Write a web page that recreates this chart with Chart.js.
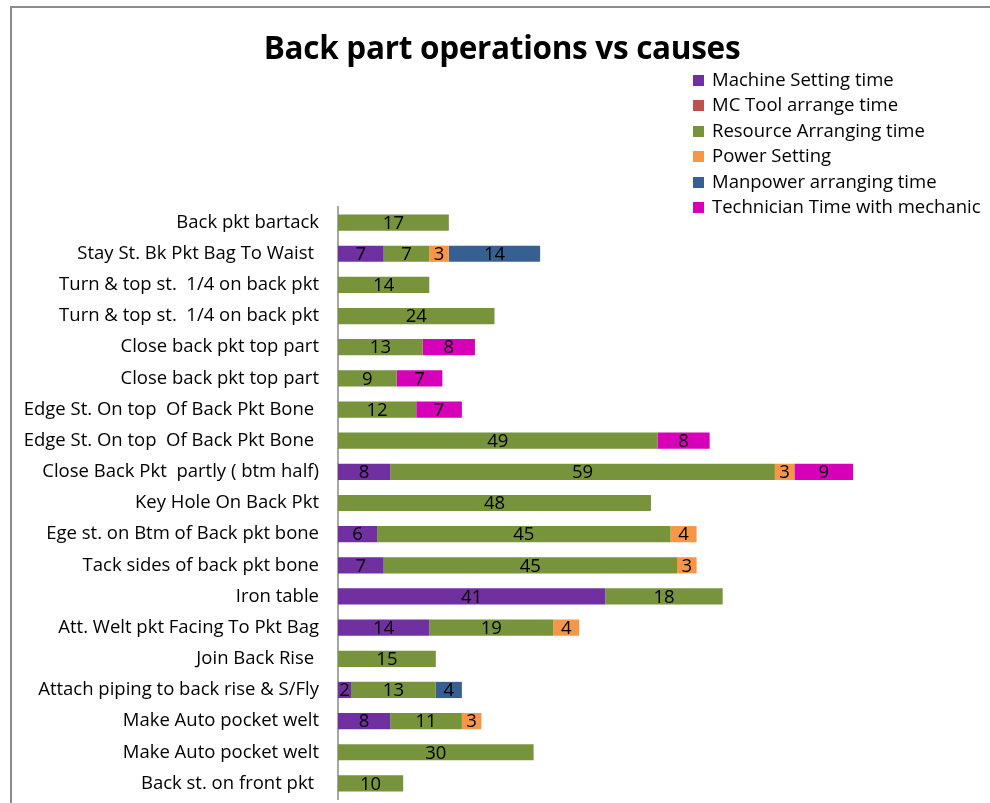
<!DOCTYPE html>
<html>
<head>
<meta charset="utf-8">
<script src="https://cdn.jsdelivr.net/npm/chart.js@4"></script>
<style>
  html, body { margin: 0; padding: 0; background: #fff; }
  #wrap { position: relative; width: 990px; height: 803px; overflow: hidden; }
  #frame { position: absolute; left: 10px; top: 6px; width: 1200px; height: 1200px; border-top: 2px solid #8c8c8c; border-left: 2px solid #8c8c8c; }
  #title { position: absolute; left: 0; width: 1004px; top: 25px; text-align: center; font: bold 31.5px "Open Sans", sans-serif; color: #000; letter-spacing: -0.3px; }
  #legend { position: absolute; left: 693px; top: 66px; font: 18.5px "Open Sans", sans-serif; color: #000; }
  #legend div { height: 25.4px; line-height: 25px; white-space: nowrap; }
  #legend span { display: inline-block; width: 11px; height: 11px; margin-right: 8px; vertical-align: 0px; }
  canvas { position: absolute; left: 0; top: 0; }
</style>
</head>
<body>
<div id="wrap">
  <div id="frame"></div>
  <canvas id="chart" width="990" height="803"></canvas>
  <div id="title">Back part operations vs causes</div>
  <div id="legend"></div>
</div>
<script>
// ==== DATA ====
const operations = [
  'Back pkt bartack',
  'Stay St. Bk Pkt Bag To Waist ',
  'Turn & top st.  1/4 on back pkt',
  'Turn & top st.  1/4 on back pkt',
  'Close back pkt top part',
  'Close back pkt top part',
  'Edge St. On top  Of Back Pkt Bone ',
  'Edge St. On top  Of Back Pkt Bone ',
  'Close Back Pkt  partly ( btm half)',
  'Key Hole On Back Pkt',
  'Ege st. on Btm of Back pkt bone',
  'Tack sides of back pkt bone',
  'Iron table',
  'Att. Welt pkt Facing To Pkt Bag',
  'Join Back Rise ',
  'Attach piping to back rise & S/Fly',
  'Make Auto pocket welt',
  'Make Auto pocket welt',
  'Back st. on front pkt '
];
const machineSetting  = [0, 7, 0, 0, 0, 0, 0, 0, 8, 0, 6, 7, 41, 14, 0, 2, 8, 0, 0];
const mcToolArrange   = [0, 0, 0, 0, 0, 0, 0, 0, 0, 0, 0, 0, 0, 0, 0, 0, 0, 0, 0];
const resourceArrange = [17, 7, 14, 24, 13, 9, 12, 49, 59, 48, 45, 45, 18, 19, 15, 13, 11, 30, 10];
const powerSetting    = [0, 3, 0, 0, 0, 0, 0, 0, 3, 0, 4, 3, 0, 4, 0, 0, 3, 0, 0];
const manpowerArrange = [0, 14, 0, 0, 0, 0, 0, 0, 0, 0, 0, 0, 0, 0, 0, 4, 0, 0, 0];
const technicianTime  = [0, 0, 0, 0, 8, 7, 7, 8, 9, 0, 0, 0, 0, 0, 0, 0, 0, 0, 0];

const seriesNames  = ['Machine Setting time', 'MC Tool arrange time', 'Resource Arranging time',
                      'Power Setting', 'Manpower arranging time', 'Technician Time with mechanic'];
const seriesValues = [machineSetting, mcToolArrange, resourceArrange, powerSetting, manpowerArrange, technicianTime];
const seriesColors = ['#7030A0', '#C0504D', '#77933C', '#F79646', '#376092', '#D500B8'];

// ==== LEGEND ====
const legendBox = document.getElementById('legend');
seriesNames.forEach((name, i) => {
  const row = document.createElement('div');
  row.innerHTML = '<span style="background:' + seriesColors[i] + '"></span>' + name;
  legendBox.appendChild(row);
});

// ==== VALUE LABELS ====
const valueLabels = {
  id: 'valueLabels',
  afterDatasetsDraw(chart) {
    const c = chart.ctx;
    c.save();
    c.font = '18.5px "Open Sans", sans-serif';
    c.fillStyle = '#000';
    c.textAlign = 'center';
    c.textBaseline = 'middle';
    chart.data.datasets.forEach((ds, di) => {
      chart.getDatasetMeta(di).data.forEach((bar, i) => {
        const v = ds.data[i];
        if (!v) return;
        c.fillText(String(v), (bar.x + bar.base) / 2, bar.y + 1);
      });
    });
    c.restore();
  }
};

// ==== CHART ====
new Chart(document.getElementById('chart').getContext('2d'), {
  type: 'bar',
  data: {
    labels: operations,
    datasets: seriesNames.map((name, i) => ({
      label: name,
      data: seriesValues[i],
      backgroundColor: seriesColors[i],
      borderWidth: 0,
      categoryPercentage: 1,
      barPercentage: 0.52
    }))
  },
  options: {
    indexAxis: 'y',
    responsive: false,
    animation: false,
    layout: { padding: { top: 207, bottom: 4, left: 0, right: 0 } },
    plugins: {
      legend: { display: false },
      title: { display: false },
      tooltip: { enabled: false }
    },
    scales: {
      x: {
        stacked: true,
        display: false,
        min: 0,
        max: 100
      },
      y: {
        stacked: true,
        grid: { display: false, drawTicks: false },
        border: { display: true, color: '#a6a6a6', width: 2 },
        ticks: {
          color: '#000',
          padding: 19,
          autoSkip: false,
          font: { family: '"Open Sans", sans-serif', size: 18.5 }
        },
        afterFit(scale) {
          scale.width = 338;
          scale.paddingTop = 0;
          scale.paddingBottom = 0;
        }
      }
    }
  },
  plugins: [valueLabels]
});
</script>
</body>
</html>
